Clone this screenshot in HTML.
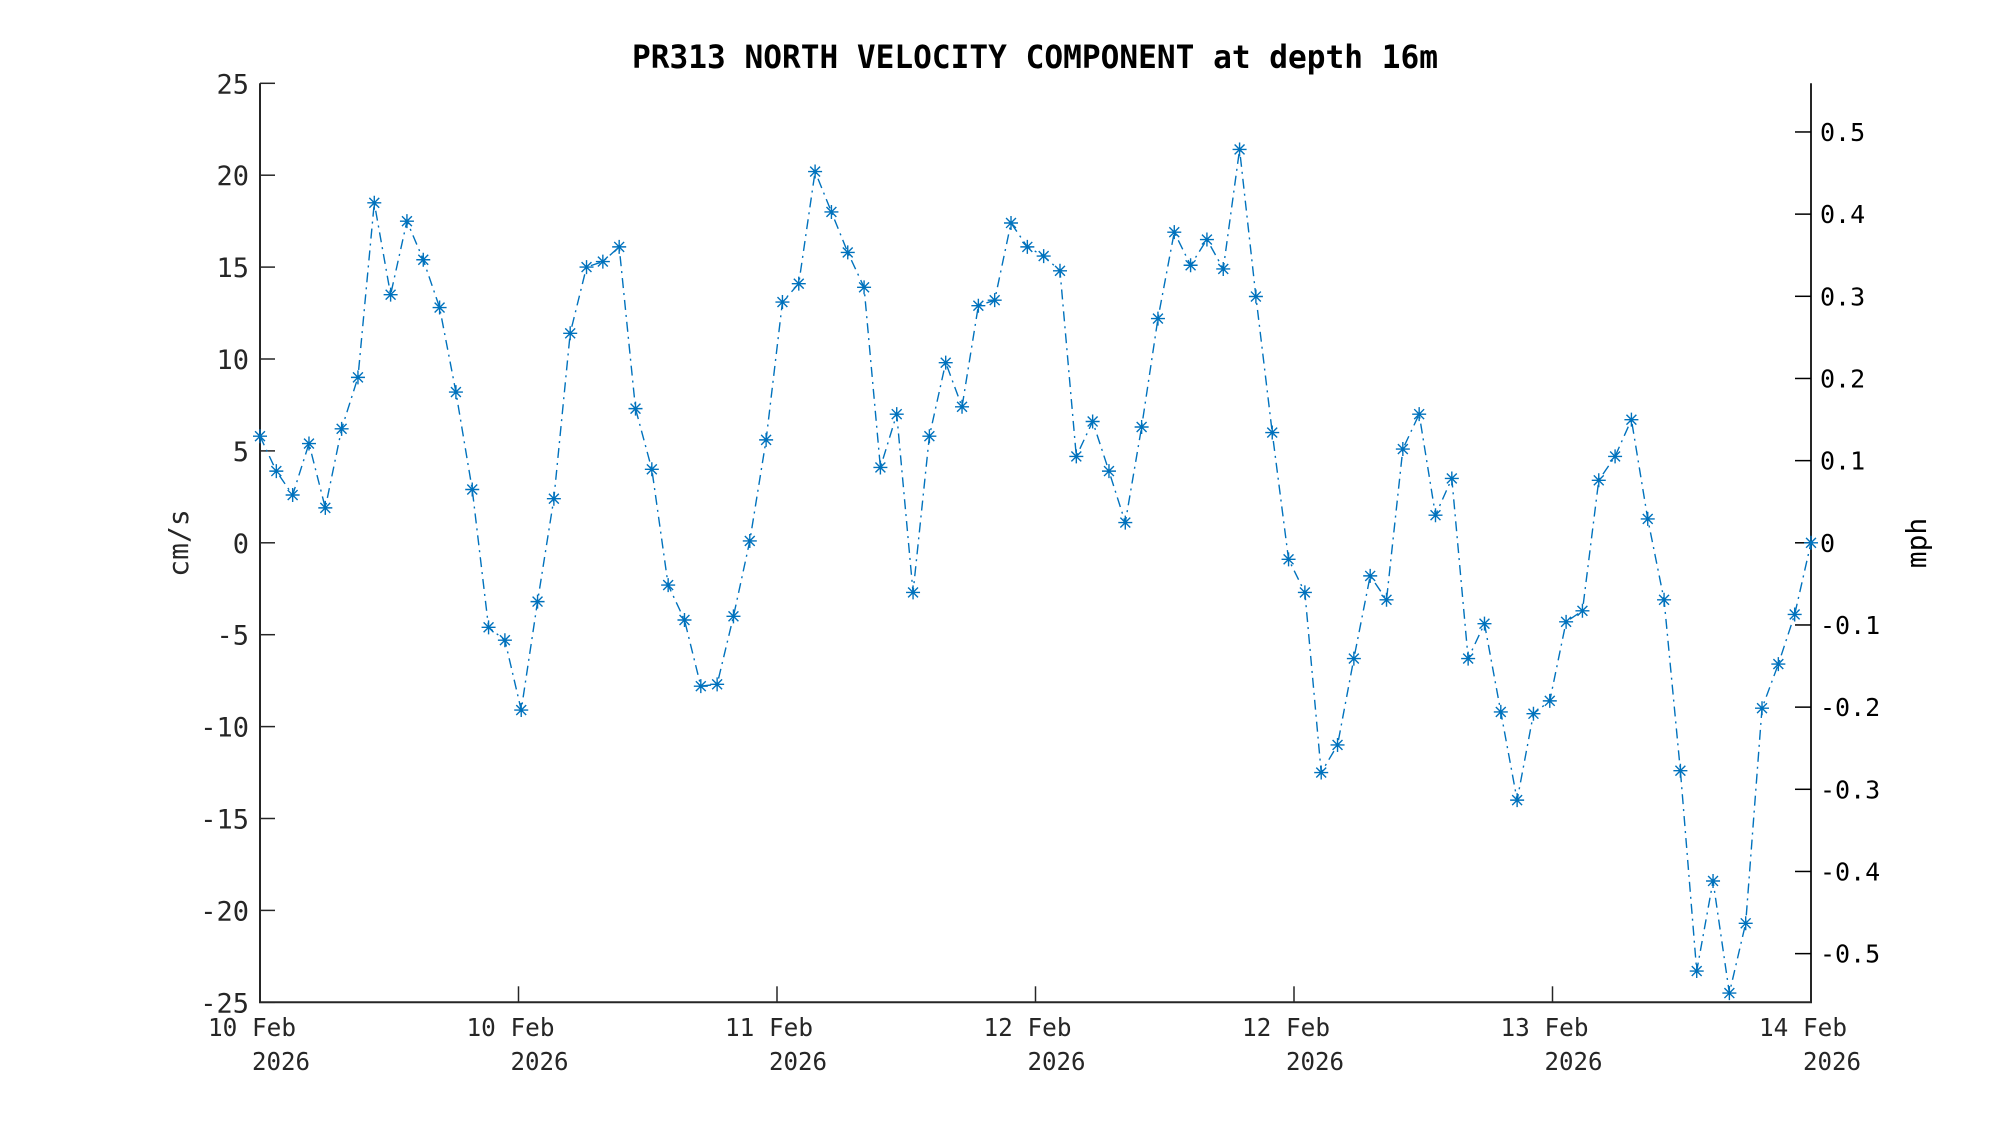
<!DOCTYPE html>
<html><head><meta charset="utf-8"><style>
body{margin:0;background:#fff;}
svg{display:block;font-family:"DejaVu Sans Mono","Liberation Mono",monospace;}
</style></head><body>
<svg id="chart" width="2000" height="1125" viewBox="0 0 2000 1125" xmlns="http://www.w3.org/2000/svg">
<rect width="2000" height="1125" fill="#fff"/>
<text x="1035" y="68" text-anchor="middle" font-size="32" font-weight="bold" fill="#000" textLength="806" lengthAdjust="spacingAndGlyphs">PR313 NORTH VELOCITY COMPONENT at depth 16m</text>
<text transform="translate(188,543) rotate(-90)" text-anchor="middle" font-size="28" fill="#262626">cm/s</text>
<text transform="translate(1926,543) rotate(-90)" text-anchor="middle" font-size="28" fill="#000">mph</text>
<g id="axes"></g>
<g id="series"></g>
</svg>
<script>
const values = [5.8,3.9,2.6,5.4,1.9,6.2,9.0,18.5,13.5,17.5,15.4,12.8,8.2,2.9,-4.6,-5.3,-9.1,-3.2,2.4,11.4,15.0,15.3,16.1,7.3,4.0,-2.3,-4.2,-7.8,-7.7,-4.0,0.1,5.6,13.1,14.1,20.2,18.0,15.8,13.9,4.1,7.0,-2.7,5.8,9.8,7.4,12.9,13.2,17.4,16.1,15.6,14.8,4.7,6.6,3.9,1.1,6.3,12.2,16.9,15.1,16.5,14.9,21.4,13.4,6.0,-0.9,-2.7,-12.5,-11.0,-6.3,-1.8,-3.1,5.1,7.0,1.5,3.5,-6.3,-4.4,-9.2,-14.0,-9.3,-8.6,-4.3,-3.7,3.4,4.7,6.7,1.3,-3.1,-12.4,-23.3,-18.4,-24.5,-20.7,-9.0,-6.6,-3.9,0.0];
const yTicks = [25,20,15,10,5,0,-5,-10,-15,-20,-25];
const y2Ticks = [0.5,0.4,0.3,0.2,0.1,0,-0.1,-0.2,-0.3,-0.4,-0.5];
const xTickLabels = ["10 Feb","10 Feb","11 Feb","12 Feb","12 Feb","13 Feb","14 Feb"];
const xTickYear = ["2026","2026","2026","2026","2026","2026","2026"];

const NS="http://www.w3.org/2000/svg";
const L=260,R=1811,T=83.3,B=1002.3;
const xMax=values.length-1;
const xs=i=>L+(R-L)*i/xMax;
const ys=v=>B-(v+25)/50*(B-T);
const ys2=m=>ys(m*44.704);
function mk(tag,attrs,parent){const e=document.createElementNS(NS,tag);for(const k in attrs)e.setAttribute(k,attrs[k]);parent.appendChild(e);return e;}
const ax=document.getElementById('axes'), se=document.getElementById('series');

const lb=mk('path',{d:`M${L},${T}V${B}H${R}V${T}`,fill:'none',stroke:'#262626','stroke-width':2},ax);



yTicks.forEach(v=>{
  const y=ys(v);
  const t=mk('line',{x1:L,x2:L+15,y1:y,y2:y,stroke:'#262626','stroke-width':1.5},ax);
  
  
  const tx=mk('text',{x:249,y:y+10,'text-anchor':'end','font-size':27,fill:'#262626'},ax);
  tx.textContent=String(v);
  
  
});
y2Ticks.forEach(m=>{
  const y=ys2(m);
  const t=mk('line',{x1:R-16,x2:R,y1:y,y2:y,stroke:'#000','stroke-width':1.5},ax);
  
  
  const tx=mk('text',{x:1820,y:y+9,'font-size':25,fill:'#000'},ax);
  tx.textContent=String(m);
  
  
});
xTickLabels.forEach((lab,k)=>{
  const x=xs(k*xMax/(xTickLabels.length-1));
  if(k>0&&k<xTickLabels.length-1){
    const t=mk('line',{x1:x,x2:x,y1:B,y2:B-16,stroke:'#262626','stroke-width':1.5},ax);
    
    
  }
  const a=mk('text',{x:x-8,y:1036,'text-anchor':'middle','font-size':25,fill:'#262626',textLength:88,lengthAdjust:'spacingAndGlyphs'},ax);
  a.textContent=lab;
  
  
  const b=mk('text',{x:x+21,y:1070,'text-anchor':'middle','font-size':25,fill:'#262626',textLength:58,lengthAdjust:'spacingAndGlyphs'},ax);
  b.textContent=xTickYear[k];
  
  
});

const pts=values.map((v,i)=>[xs(i),ys(v)]);
const line=mk('polyline',{points:pts.map(p=>p.join(',')).join(' '),fill:'none',stroke:'#0072BD','stroke-width':1.4,'stroke-dasharray':'10 5 2 5'},se);


const s=7,d=s*0.707;
pts.forEach(([x,y])=>{
  const m=mk('path',{d:`M${x-s},${y}H${x+s}M${x},${y-s}V${y+s}M${x-d},${y-d}L${x+d},${y+d}M${x-d},${y+d}L${x+d},${y-d}`,stroke:'#0072BD','stroke-width':1.4,fill:'none'},se);
  
  
});
</script>
</body></html>
